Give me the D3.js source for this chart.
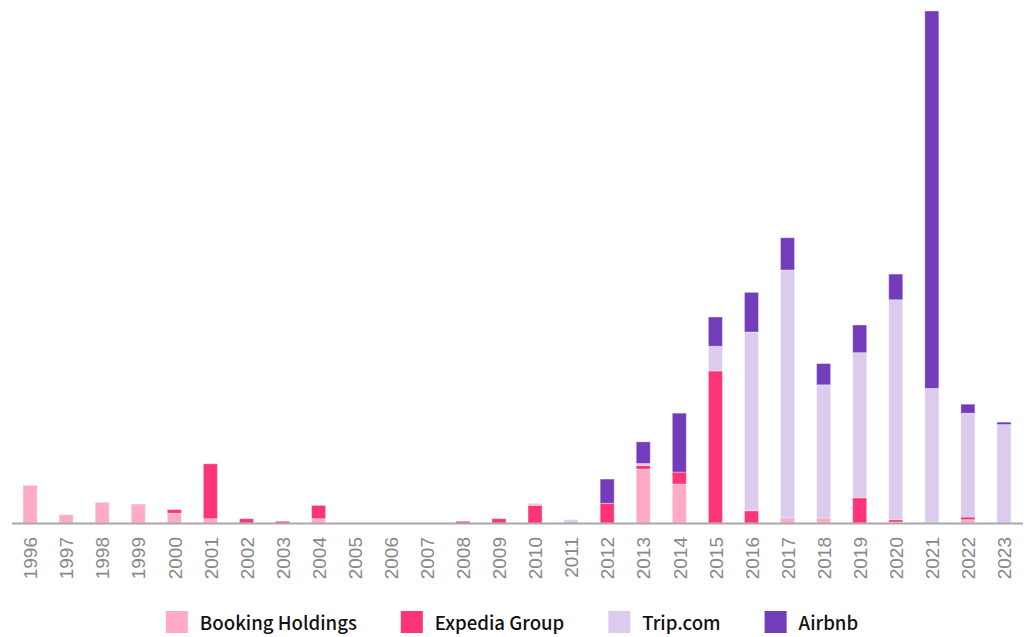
<!DOCTYPE html>
<html>
<head>
<meta charset="utf-8">
<script src="https://cdn.jsdelivr.net/npm/d3@7/dist/d3.min.js"></script>
<style>
  html, body { margin: 0; padding: 0; background: #fff; }
  svg { display: block; }
</style>
</head>
<body>
<svg id="chart" width="1031" height="637"></svg>
<script>
// ---- Data (arbitrary units) ----
const years = ["1996","1997","1998","1999","2000","2001","2002","2003","2004","2005","2006","2007","2008","2009","2010","2011","2012","2013","2014","2015","2016","2017","2018","2019","2020","2021","2022","2023"];
const seriesNames = ["Booking Holdings", "Expedia Group", "Trip.com", "Airbnb"];
const booking = [37.7, 8.3, 20.7, 17.7, 9.7, 4.3, 0, 0, 4.3, 0, 0, 0, 0, 0, 0, 0, 0, 54, 39, 0, 0, 4.5, 4.5, 0, 1, 0.4, 3.3, 0];
const expedia = [0, 0, 0, 0.8, 3.7, 55, 4.3, 1.7, 13.3, 0, 0, 0, 1.7, 4.3, 17.7, 0, 19.7, 3.6, 12, 152.3, 12.3, 0.6, 0.6, 25.3, 2.3, 0.4, 2.7, 0];
const trip    = [0, 0, 0, 0, 0, 0, 0, 0, 0, 0, 0, 0, 0, 0, 2, 3.3, 0, 2, 0, 24.7, 179, 248.3, 133.3, 145.3, 220.3, 134, 104, 98.6];
const airbnb  = [0, 0, 0, 0, 0, 0, 0, 0, 0, 0, 0, 0, 0, 0, 0, 0, 24.3, 21.7, 59, 29.3, 39.7, 32.3, 21.3, 27.7, 25.7, 378, 9, 2.4];
const colors  = ["#ffabc8", "#ff3377", "#dbcbed", "#723cba"];

const rows = years.map((y, i) => ({
  year: y,
  "Booking Holdings": booking[i],
  "Expedia Group": expedia[i],
  "Trip.com": trip[i],
  "Airbnb": airbnb[i]
}));

const svg = d3.select("#chart");
const left = 12, right = 1022, baseY = 523, topY = 11;

const x = d3.scaleBand().domain(years).range([left, right]).padding(0);
const barW = 14;
const stack = d3.stack().keys(seriesNames)(rows);
const maxV = d3.max(stack[stack.length - 1], d => d[1]);
const y = d3.scaleLinear().domain([0, maxV]).range([baseY, topY]);
const color = d3.scaleOrdinal().domain(seriesNames).range(colors);

const g = svg.append("g");
g.selectAll("g.layer")
  .data(stack)
  .join("g")
  .attr("class", "layer")
  .attr("fill", d => color(d.key))
  .selectAll("rect")
  .data(d => d.filter(s => s[1] - s[0] > 0))
  .join("rect")
  .attr("x", d => x(d.data.year) + x.bandwidth() / 2 - barW / 2)
  .attr("width", barW)
  .attr("y", d => y(d[1]))
  .attr("height", d => y(d[0]) - y(d[1]))
  .attr("stroke", "#ffffff")
  .attr("stroke-opacity", 0.35)
  .attr("stroke-width", 1);

// x axis
const axis = svg.append("g").attr("transform", `translate(0,${baseY + 0.5})`)
  .call(d3.axisBottom(x).tickSize(0).tickPadding(0));
axis.select(".domain").attr("stroke", "#a8a8a8").attr("stroke-width", 2)
  .attr("d", `M${left},0H${right + 1}`);
axis.selectAll(".tick text")
  .attr("font-family", "'Liberation Sans', Arial, sans-serif")
  .attr("font-size", 19)
  .attr("fill", "#888888")
  .attr("text-anchor", "end")
  .attr("transform", "rotate(-90)")
  .attr("x", -13.5)
  .attr("y", 0)
  .attr("dy", "0.38em");

// legend
const legend = svg.append("g");
const legendFont = "'Noto Sans CJK SC', 'Noto Sans', sans-serif";
const items = legend.selectAll("g.item").data(seriesNames).join("g").attr("class", "item");
items.append("rect").attr("width", 22).attr("height", 22).attr("y", 611)
  .attr("fill", d => color(d));
items.append("text").text(d => d)
  .attr("font-family", legendFont).attr("font-size", 18.6).attr("font-weight", 500)
  .attr("fill", "#111")
  .attr("y", 629.5).attr("x", 34);
const gapItem = 44;
const widths = [];
items.each(function() { widths.push(34 + this.querySelector("text").getComputedTextLength()); });
const total = d3.sum(widths) + gapItem * (widths.length - 1);
let cur = 512 - total / 2;
items.each(function(d, i) {
  d3.select(this).attr("transform", `translate(${cur},0)`);
  cur += widths[i] + gapItem;
});
</script>
</body>
</html>
